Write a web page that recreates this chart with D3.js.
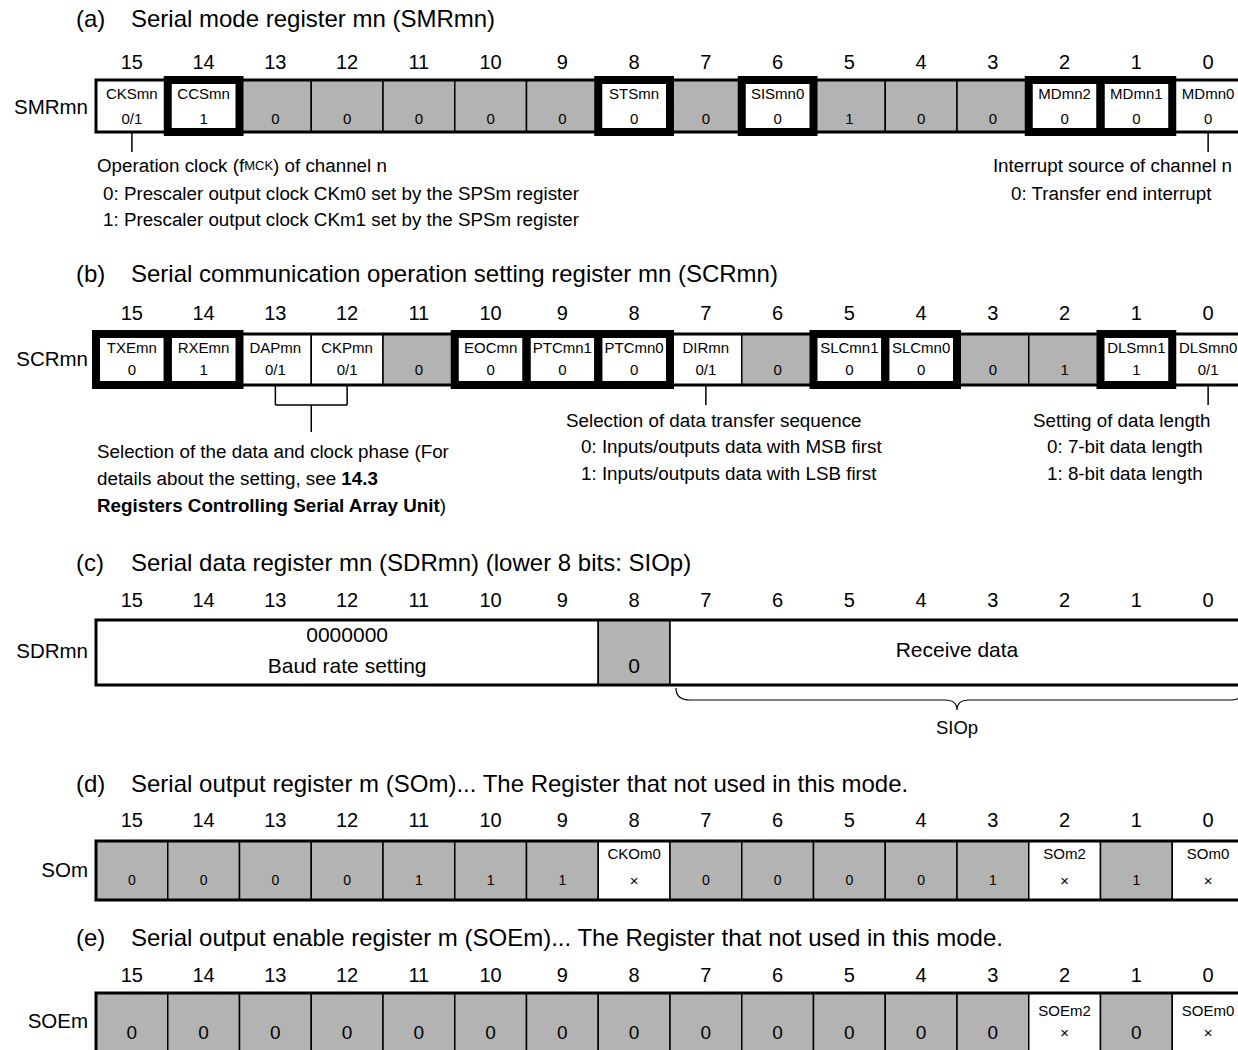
<!DOCTYPE html>
<html>
<head>
<meta charset="utf-8">
<script src="https://cdn.jsdelivr.net/npm/d3@7"></script>
<style>
  body { margin: 0; background: #fff; }
  svg { display: block; font-family: Arial, "Liberation Sans", sans-serif; }
</style>
</head>
<body>
<div id="chart"></div>
<script>
/** bit numbers, MSB first */
let bits = d3.range(15, -1, -1);

/** section titles */
let titleTags = ["(a)", "(b)", "(c)", "(d)", "(e)"];
let titleTexts = [
  "Serial mode register mn (SMRmn)",
  "Serial communication operation setting register mn (SCRmn)",
  "Serial data register mn (SDRmn) (lower 8 bits: SIOp)",
  "Serial output register m (SOm)... The Register that not used in this mode.",
  "Serial output enable register m (SOEm)... The Register that not used in this mode."
];

/** (a) SMRmn */
let smrNames  = ["CKSmn", "CCSmn", "", "", "", "", "", "STSmn", "", "SISmn0", "", "", "", "MDmn2", "MDmn1", "MDmn0"];
let smrValues = ["0/1", "1", "0", "0", "0", "0", "0", "0", "0", "0", "1", "0", "0", "0", "0", "0"];
let smrThick  = [14, 8, 6, 2, 1];

/** (b) SCRmn */
let scrNames  = ["TXEmn", "RXEmn", "DAPmn", "CKPmn", "", "EOCmn", "PTCmn1", "PTCmn0", "DIRmn", "", "SLCmn1", "SLCmn0", "", "", "DLSmn1", "DLSmn0"];
let scrValues = ["0", "1", "0/1", "0/1", "0", "0", "0", "0", "0/1", "0", "0", "0", "0", "1", "1", "0/1"];
let scrThick  = [15, 14, 10, 9, 8, 5, 4, 1];

/** (c) SDRmn fields: msb, lsb, text lines, fixed */
let sdrMsb   = [15, 8, 7];
let sdrLsb   = [9, 8, 0];
let sdrText  = [["0000000", "Baud rate setting"], ["", "0"], ["Receive data"]];
let sdrFixed = [false, true, false];

/** (d) SOm */
let soNames  = ["", "", "", "", "", "", "", "CKOm0", "", "", "", "", "", "SOm2", "", "SOm0"];
let soValues = ["0", "0", "0", "0", "1", "1", "1", "×", "0", "0", "0", "0", "1", "×", "1", "×"];

/** (e) SOEm */
let soeNames  = ["", "", "", "", "", "", "", "", "", "", "", "", "", "SOEm2", "", "SOEm0"];
let soeValues = ["0", "0", "0", "0", "0", "0", "0", "0", "0", "0", "0", "0", "0", "×", "0", "×"];

/** annotation texts */
let noteCks = ["Operation clock (f|MCK|) of channel n",
  "0: Prescaler output clock CKm0 set by the SPSm register",
  "1: Prescaler output clock CKm1 set by the SPSm register"];
let noteMd  = ["Interrupt source of channel n", "0: Transfer end interrupt"];
let notePhase = ["Selection of the data and clock phase (For",
  "details about the setting, see ", "14.3", "Registers Controlling Serial Array Unit", ")"];
let noteDir = ["Selection of data transfer sequence",
  "0: Inputs/outputs data with MSB first",
  "1: Inputs/outputs data with LSB first"];
let noteDls = ["Setting of data length", "0: 7-bit data length", "1: 8-bit data length"];

let width = 1238;
let height = 1050;
let gray = "#b3b3b3";

let svg = d3.select("#chart")
  .append("svg")
  .attr("width", width)
  .attr("height", height);

let x = d3.scaleBand()
  .domain(bits)
  .range([96, 96 + 16 * 71.75]);
let bw = x.bandwidth();
let cx = b => x(b) + bw / 2;

/** row layout */
let rows = [
  { title: 18, bits: 62, top: 80, h: 52, label: "SMRmn", labelY: 106 },
  { title: 273, bits: 313, top: 334, h: 51, label: "SCRmn", labelY: 358 },
  { title: 562, bits: 600, top: 620, h: 65, label: "SDRmn", labelY: 650 },
  { title: 783, bits: 820, top: 841, h: 59, label: "SOm", labelY: 869 },
  { title: 937, bits: 975, top: 993, h: 60, label: "SOEm", labelY: 1020 }
];

rows.forEach((r, i) => {
  let t = svg.append("text")
    .attr("y", r.title)
    .attr("dominant-baseline", "central")
    .style("font-size", "24px");
  t.append("tspan").attr("x", 76).text(titleTags[i]);
  t.append("tspan").attr("x", 131).text(titleTexts[i]);

  svg.append("g")
    .selectAll("text")
    .data(bits)
    .join("text")
    .attr("x", d => cx(d))
    .attr("y", r.bits)
    .attr("text-anchor", "middle")
    .attr("dominant-baseline", "central")
    .style("font-size", "20px")
    .text(d => d);

  svg.append("text")
    .attr("x", 88)
    .attr("y", r.labelY)
    .attr("text-anchor", "end")
    .attr("dominant-baseline", "central")
    .style("font-size", "20.5px")
    .text(r.label);
});

function drawRegister(r, names, values, thick, opt) {
  let g = svg.append("g");
  let cells = bits.map((b, i) => ({ bit: b, name: names[i], value: values[i] }));

  g.selectAll("rect.cell")
    .data(cells)
    .join("rect")
    .attr("class", "cell")
    .attr("x", d => x(d.bit))
    .attr("y", r.top)
    .attr("width", bw)
    .attr("height", r.h)
    .attr("fill", d => d.name === "" ? gray : "#fff")
    .attr("stroke", "#000")
    .attr("stroke-width", 1.5);

  g.append("rect")
    .attr("x", x(15))
    .attr("y", r.top)
    .attr("width", 16 * bw)
    .attr("height", r.h)
    .attr("fill", "none")
    .attr("stroke", "#000")
    .attr("stroke-width", 3);

  g.selectAll("rect.thick")
    .data(thick)
    .join("rect")
    .attr("class", "thick")
    .attr("x", d => x(d))
    .attr("y", r.top)
    .attr("width", bw)
    .attr("height", r.h)
    .attr("fill", "none")
    .attr("stroke", "#000")
    .attr("stroke-width", 8);

  g.selectAll("text.name")
    .data(cells.filter(d => d.name !== ""))
    .join("text")
    .attr("class", "name")
    .attr("x", d => cx(d.bit))
    .attr("y", r.top + opt.nameY)
    .attr("text-anchor", "middle")
    .attr("dominant-baseline", "central")
    .style("font-size", "15px")
    .text(d => d.name);

  g.selectAll("text.value")
    .data(cells)
    .join("text")
    .attr("class", "value")
    .attr("x", d => cx(d.bit))
    .attr("y", r.top + opt.valueY)
    .attr("text-anchor", "middle")
    .attr("dominant-baseline", "central")
    .style("font-size", d => (d.value === "×" ? 15 : opt.valueSize) + "px")
    .text(d => d.value);
}

drawRegister(rows[0], smrNames, smrValues, smrThick, { nameY: 13, valueY: 38, valueSize: 15 });
drawRegister(rows[1], scrNames, scrValues, scrThick, { nameY: 13, valueY: 35, valueSize: 15 });
drawRegister(rows[3], soNames, soValues, [], { nameY: 12, valueY: 39, valueSize: 14 });
drawRegister(rows[4], soeNames, soeValues, [], { nameY: 17, valueY: 39, valueSize: 19 });

/** (c) SDRmn */
let sdr = rows[2];
let fields = sdrMsb.map((m, i) => ({ msb: m, lsb: sdrLsb[i], text: sdrText[i], fixed: sdrFixed[i] }));
let sg = svg.append("g");
sg.selectAll("rect")
  .data(fields)
  .join("rect")
  .attr("x", d => x(d.msb))
  .attr("y", sdr.top)
  .attr("width", d => x(d.lsb) + bw - x(d.msb))
  .attr("height", sdr.h)
  .attr("fill", d => d.fixed ? gray : "#fff")
  .attr("stroke", "#000")
  .attr("stroke-width", 1.5);
sg.append("rect")
  .attr("x", x(15))
  .attr("y", sdr.top)
  .attr("width", 16 * bw)
  .attr("height", sdr.h)
  .attr("fill", "none")
  .attr("stroke", "#000")
  .attr("stroke-width", 3);
fields.forEach(f => {
  let mid = (x(f.msb) + x(f.lsb) + bw) / 2;
  let ys = f.text.length === 1 ? [29] : [14, 45];
  f.text.forEach((s, j) => {
    sg.append("text")
      .attr("x", mid)
      .attr("y", sdr.top + ys[j])
      .attr("text-anchor", "middle")
      .attr("dominant-baseline", "central")
      .style("font-size", "21px")
      .text(s);
  });
});

/** SIOp brace */
let bx0 = x(7) + 6, bx1 = x(0) + bw, by = sdr.top + sdr.h + 3, bm = (x(7) + x(0) + bw) / 2;
let brace = d3.path();
brace.moveTo(bx0, by);
brace.quadraticCurveTo(bx0, by + 12, bx0 + 14, by + 12);
brace.lineTo(bm - 12, by + 12);
brace.quadraticCurveTo(bm, by + 12, bm, by + 22);
brace.quadraticCurveTo(bm, by + 12, bm + 12, by + 12);
brace.lineTo(bx1 - 14, by + 12);
brace.quadraticCurveTo(bx1, by + 12, bx1, by);
svg.append("path")
  .attr("d", brace.toString())
  .attr("fill", "none")
  .attr("stroke", "#000")
  .attr("stroke-width", 1.2);
svg.append("text")
  .attr("x", bm)
  .attr("y", 727)
  .attr("text-anchor", "middle")
  .attr("dominant-baseline", "central")
  .style("font-size", "18.5px")
  .text("SIOp");

/** leader lines */
let lines = [
  [cx(15), 132, cx(15), 152],
  [cx(0), 132, cx(0), 152],
  [cx(13), 385, cx(13), 405],
  [cx(12), 385, cx(12), 405],
  [cx(13), 405, cx(12), 405],
  [(cx(13) + cx(12)) / 2, 405, (cx(13) + cx(12)) / 2, 432],
  [cx(7), 385, cx(7), 405],
  [cx(0), 385, cx(0), 405]
];
svg.append("g")
  .selectAll("line")
  .data(lines)
  .join("line")
  .attr("x1", d => d[0]).attr("y1", d => d[1])
  .attr("x2", d => d[2]).attr("y2", d => d[3])
  .attr("stroke", "#000")
  .attr("stroke-width", 1.5);

function note(xp, yp, s, anchor) {
  return svg.append("text")
    .attr("x", xp)
    .attr("y", yp)
    .attr("text-anchor", anchor || "start")
    .attr("dominant-baseline", "central")
    .style("font-size", "18.8px")
    .text(s);
}

/** CKSmn note with small-caps MCK */
let parts = noteCks[0].split("|");
let ck = note(97, 165, "");
ck.append("tspan").text(parts[0]);
ck.append("tspan").style("font-size", "13px").text(parts[1]);
ck.append("tspan").text(parts[2]);
note(103, 193, noteCks[1]);
note(103, 219, noteCks[2]);

note(1232, 165, noteMd[0], "end");
note(1011, 193, noteMd[1]);

note(97, 451, notePhase[0]);
let ph = note(97, 478, notePhase[1]);
ph.append("tspan").style("font-weight", "bold").text(notePhase[2]);
let ph2 = note(97, 505, "");
ph2.append("tspan").style("font-weight", "bold").text(notePhase[3]);
ph2.append("tspan").text(notePhase[4]);

note(566, 420, noteDir[0]);
note(581, 446, noteDir[1]);
note(581, 473, noteDir[2]);

note(1033, 420, noteDls[0]);
note(1047, 446, noteDls[1]);
note(1047, 473, noteDls[2]);
</script>
</body>
</html>
